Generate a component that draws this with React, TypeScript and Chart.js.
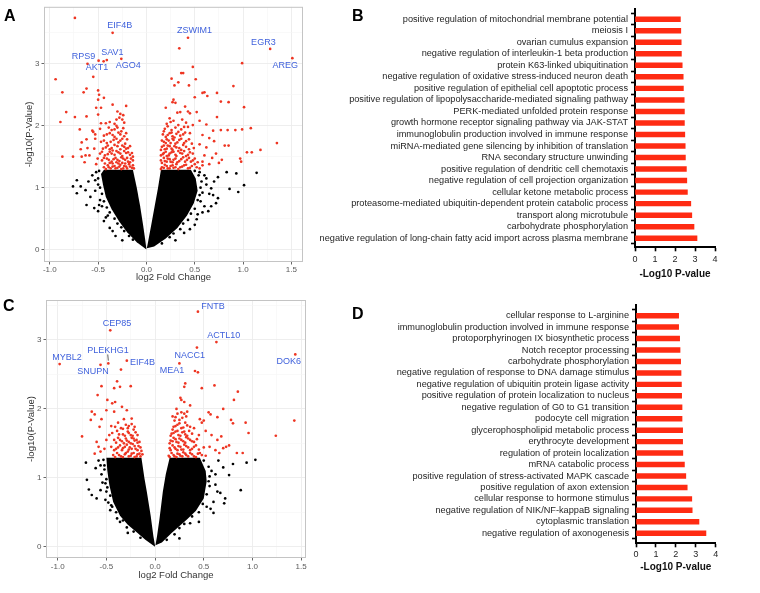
import React, { useEffect, useRef } from 'react';
import { Chart, registerables } from 'chart.js';

Chart.register(...registerables);

const FONT = "'Liberation Sans', Arial, Helvetica, sans-serif";
Chart.defaults.font.family = FONT;

type Pt = [number, number];

// ---------------- Panel A (volcano) ----------------
// outlines of the dense, fully black (non-significant) clouds: left and right lobes
const CORE_A_LEFT: Pt[] = [[0,0],[-0.10,0.12],[-0.20,0.28],[-0.28,0.45],[-0.36,0.65],[-0.42,0.85],[-0.45,1.05],[-0.47,1.22],[-0.44,1.29],[-0.14,1.29],[-0.10,1.0],[-0.065,0.7],[-0.035,0.4],[-0.012,0.15],[-0.002,0.03]];
const CORE_A_RIGHT: Pt[] = [[0.004,0.02],[0.02,0.15],[0.05,0.4],[0.085,0.7],[0.12,1.0],[0.15,1.29],[0.46,1.29],[0.51,1.15],[0.53,0.95],[0.49,0.75],[0.42,0.55],[0.32,0.35],[0.20,0.18],[0.08,0.05]];

const BLACK_A: Pt[] = [[-0.72,1.12],[-0.76,1.02],[-0.68,1.02],[-0.72,0.91],[-0.63,0.96],[-0.62,0.72],[-0.54,0.67],[-0.50,0.62],[-0.44,0.46],[-0.38,0.35],[-0.35,0.30],[-0.60,1.10],[-0.56,1.20],[-0.52,1.25],[-0.58,0.85],[-0.53,0.95],[-0.50,1.05],[-0.48,0.80],[-0.46,0.70],[-0.40,0.55],[-0.32,0.22],[-0.25,0.15],
[-0.49,1.27],[-0.50,1.15],[-0.48,1.00],[-0.46,0.90],[-0.44,0.78],[-0.41,0.68],[-0.38,0.60],[-0.33,0.50],[-0.30,0.42],[-0.26,0.36],[-0.23,0.30],[-0.18,0.22],[-0.14,0.16],[-0.53,1.12],[-0.49,0.72],[-0.42,0.52],
[0.83,1.25],[0.93,1.23],[1.14,1.24],[1.01,1.04],[0.86,0.98],[0.95,0.93],[0.74,1.17],[0.70,1.10],[0.67,0.99],[0.69,0.88],[0.74,0.83],[0.72,0.75],[0.67,0.70],[0.64,0.62],[0.53,0.57],[0.52,0.49],[0.45,0.33],[0.39,0.27],[0.60,1.20],[0.62,1.05],[0.58,0.92],[0.56,0.78],[0.60,0.70],[0.55,1.25],[0.50,0.40],[0.30,0.15],
[0.50,1.27],[0.54,1.20],[0.57,1.10],[0.56,1.00],[0.55,0.88],[0.53,0.80],[0.50,0.66],[0.46,0.58],[0.43,0.48],[0.38,0.42],[0.35,0.33],[0.28,0.26],[0.24,0.20],[0.16,0.10],[0.62,1.15],[0.65,0.90],[0.58,0.60]];

const RED_A: Pt[] = [[-0.74,3.74],[-0.35,3.50],[-0.495,3.05],[-0.443,3.04],[-0.41,3.06],[-0.61,3.0],[-0.26,3.08],[-0.55,2.79],[-0.94,2.75],[-0.87,2.54],[-0.65,2.54],[-0.62,2.60],[-0.50,2.57],[-0.49,2.50],[-0.50,2.42],[-0.44,2.45],[-0.35,2.34],[-0.21,2.32],[-0.52,2.29],[-0.47,2.29],[-0.83,2.22],[-0.30,2.23],[-0.27,2.19],[-0.24,2.17],[-0.28,2.13],[-0.31,2.10],[-0.25,2.10],[-0.23,2.05],[-0.74,2.14],[-0.62,2.15],[-0.50,2.18],[-0.89,2.06],[-0.47,2.04],[-0.42,2.04],[-0.38,2.06],[-0.33,2.03],[-0.31,2.00],
[-0.87,1.50],[-0.76,1.50],[-0.68,1.62],[-0.63,1.52],[-0.64,1.41],[-0.67,1.73],[-0.69,1.94],[-0.56,1.92],[-0.53,1.86],[-0.62,1.78],[-0.61,1.64],[-0.59,1.52],[-0.67,1.50],[-0.55,1.90],[-0.53,1.79],[-0.54,1.63],[-0.505,1.47],[-0.52,1.38],
[-0.44,1.33],[-0.40,1.36],[-0.37,1.31],[-0.33,1.35],[-0.30,1.32],[-0.27,1.37],[-0.24,1.31],[-0.21,1.34],[-0.18,1.38],[-0.15,1.32],[-0.14,1.36],[-0.35,1.39],[-0.25,1.40],
[-0.46,1.44],[-0.41,1.47],[-0.36,1.42],[-0.32,1.48],[-0.28,1.43],[-0.26,1.49],[-0.22,1.45],[-0.19,1.42],[-0.16,1.47],[-0.31,1.41],
[-0.48,1.55],[-0.43,1.52],[-0.38,1.58],[-0.33,1.53],[-0.29,1.57],[-0.25,1.51],[-0.21,1.56],[-0.17,1.53],[-0.35,1.60],
[-0.45,1.63],[-0.40,1.68],[-0.36,1.64],[-0.30,1.67],[-0.27,1.62],[-0.23,1.66],[-0.19,1.64],
[-0.47,1.74],[-0.41,1.72],[-0.34,1.77],[-0.29,1.73],[-0.25,1.79],[-0.22,1.71],
[-0.44,1.84],[-0.38,1.88],[-0.33,1.82],[-0.27,1.86],[-0.23,1.83],
[-0.48,1.95],[-0.36,1.93],[-0.30,1.97],[-0.26,1.91],
[-0.42,1.30],[-0.39,1.33],[-0.35,1.34],[-0.32,1.31],[-0.28,1.34],[-0.26,1.30],[-0.23,1.35],[-0.20,1.31],[-0.17,1.34],[-0.13,1.31],[-0.43,1.39],[-0.38,1.40],[-0.29,1.39],[-0.22,1.39],[-0.17,1.41],[-0.14,1.44],
[-0.44,1.48],[-0.39,1.45],[-0.34,1.46],[-0.30,1.45],[-0.24,1.47],[-0.20,1.48],[-0.14,1.50],[-0.46,1.58],[-0.40,1.54],[-0.36,1.55],[-0.31,1.59],[-0.27,1.55],[-0.23,1.59],[-0.19,1.57],[-0.15,1.56],
[-0.42,1.65],[-0.38,1.62],[-0.33,1.69],[-0.25,1.68],[-0.21,1.63],[-0.17,1.67],[-0.44,1.76],[-0.37,1.74],[-0.31,1.79],[-0.27,1.76],[-0.20,1.78],[-0.41,1.86],[-0.35,1.85],[-0.29,1.89],[-0.21,1.88],[-0.39,1.97],[-0.33,1.94],[-0.24,1.96],
[0.43,3.42],[0.34,3.25],[1.28,3.24],[1.51,3.09],[0.99,3.01],[0.48,2.95],[0.36,2.85],[0.38,2.85],[0.26,2.76],[0.51,2.75],[0.33,2.70],[0.29,2.65],[0.44,2.65],[0.90,2.64],[0.73,2.53],[0.58,2.53],[0.60,2.54],[0.63,2.48],[0.50,2.46],[0.28,2.42],[0.27,2.38],[0.30,2.37],[0.77,2.39],[0.85,2.38],[0.20,2.29],[1.01,2.30],[0.40,2.31],[0.32,2.21],[0.35,2.22],[0.43,2.23],[0.45,2.20],[0.52,2.22],[0.73,2.14],[0.77,1.93],[0.84,1.93],[0.92,1.93],[0.99,1.94],[1.08,1.96],[0.69,1.92],[1.35,1.72],[1.18,1.61],[1.09,1.57],[1.04,1.57],[0.85,1.68],[0.81,1.68],[0.97,1.47],[0.98,1.42],
[0.24,2.12],[0.28,2.08],[0.37,2.10],[0.41,2.05],[0.55,2.08],[0.62,2.02],[0.58,1.85],[0.65,1.80],[0.70,1.75],[0.62,1.65],[0.55,1.70],[0.72,1.55],[0.68,1.48],[0.75,1.40],[0.78,1.45],[0.65,1.38],[0.60,1.52],[0.58,1.42],
[0.16,1.33],[0.19,1.37],[0.22,1.31],[0.25,1.35],[0.28,1.32],[0.31,1.38],[0.35,1.33],[0.39,1.36],[0.43,1.31],[0.47,1.35],[0.52,1.33],
[0.15,1.44],[0.18,1.48],[0.21,1.42],[0.24,1.46],[0.27,1.41],[0.30,1.47],[0.34,1.43],[0.38,1.49],[0.42,1.45],[0.46,1.42],[0.50,1.47],
[0.17,1.54],[0.20,1.58],[0.23,1.52],[0.26,1.57],[0.30,1.53],[0.33,1.59],[0.37,1.55],[0.41,1.51],[0.45,1.57],
[0.16,1.66],[0.19,1.62],[0.22,1.68],[0.26,1.63],[0.29,1.67],[0.34,1.64],[0.38,1.69],[0.44,1.62],
[0.18,1.74],[0.21,1.78],[0.25,1.72],[0.28,1.77],[0.32,1.73],[0.36,1.79],[0.41,1.75],[0.47,1.71],
[0.17,1.86],[0.20,1.82],[0.24,1.88],[0.27,1.83],[0.31,1.87],[0.35,1.84],[0.40,1.89],
[0.19,1.95],[0.22,1.99],[0.26,1.93],[0.30,1.97],[0.36,1.94],[0.43,1.98],
[0.15,1.30],[0.18,1.32],[0.21,1.35],[0.24,1.31],[0.27,1.36],[0.30,1.33],[0.33,1.30],[0.37,1.34],[0.41,1.37],[0.45,1.32],[0.50,1.38],[0.55,1.31],[0.58,1.36],
[0.16,1.40],[0.19,1.43],[0.22,1.47],[0.25,1.42],[0.28,1.45],[0.32,1.41],[0.36,1.46],[0.40,1.42],[0.44,1.48],[0.48,1.44],[0.53,1.41],
[0.15,1.52],[0.18,1.56],[0.21,1.51],[0.24,1.55],[0.28,1.58],[0.31,1.51],[0.35,1.56],[0.39,1.59],[0.43,1.53],[0.48,1.55],
[0.15,1.61],[0.18,1.68],[0.21,1.63],[0.24,1.67],[0.27,1.61],[0.31,1.65],[0.36,1.61],[0.41,1.66],[0.49,1.64],
[0.16,1.76],[0.20,1.72],[0.23,1.76],[0.27,1.79],[0.30,1.71],[0.34,1.77],[0.39,1.72],[0.44,1.78],
[0.18,1.91],[0.22,1.85],[0.26,1.89],[0.29,1.81],[0.33,1.90],[0.38,1.86],[0.45,1.88],[0.21,2.03],[0.25,2.06],[0.33,2.01],[0.39,1.98],[0.48,2.01]];

type GeneLabel = { gene: string; lx: number; ly: number; line?: [number, number, number, number] };

const LABELS_A: GeneLabel[] = [
  { gene: 'EIF4B', lx: -0.277, ly: 3.61 },
  { gene: 'ZSWIM1', lx: 0.498, ly: 3.53 },
  { gene: 'EGR3', lx: 1.21, ly: 3.35 },
  { gene: 'RPS9', lx: -0.65, ly: 3.12 },
  { gene: 'SAV1', lx: -0.353, ly: 3.19 },
  { gene: 'AKT1', lx: -0.512, ly: 2.94 },
  { gene: 'AGO4', lx: -0.187, ly: 2.97 },
  { gene: 'AREG', lx: 1.436, ly: 2.98 },
];

// ---------------- Panel C (volcano) ----------------
const CORE_C_LEFT: Pt[] = [[0,0],[-0.1,0.1],[-0.18,0.2],[-0.28,0.32],[-0.36,0.45],[-0.43,0.65],[-0.47,0.9],[-0.49,1.1],[-0.50,1.29],[-0.14,1.29],[-0.11,1.0],[-0.085,0.8],[-0.045,0.45],[-0.017,0.15],[-0.002,0.03]];
const CORE_C_RIGHT: Pt[] = [[0.004,0.02],[0.02,0.15],[0.045,0.4],[0.08,0.8],[0.11,1.05],[0.15,1.29],[0.46,1.29],[0.52,1.1],[0.53,0.95],[0.50,0.7],[0.42,0.52],[0.33,0.40],[0.17,0.2],[0.07,0.06]];

const BLACK_C: Pt[] = [[-0.71,1.22],[-0.61,1.14],[-0.70,0.97],[-0.68,0.83],[-0.60,0.70],[-0.51,0.68],[-0.56,0.82],[-0.51,0.92],[-0.46,0.53],[-0.39,0.41],[-0.36,0.36],[-0.58,1.25],[-0.55,1.05],[-0.52,1.18],[-0.50,0.80],[-0.45,0.60],[-0.28,0.20],[-0.65,0.75],
[-0.53,1.26],[-0.52,1.12],[-0.50,0.98],[-0.49,0.86],[-0.46,0.74],[-0.44,0.58],[-0.40,0.50],[-0.33,0.38],[-0.29,0.28],[-0.22,0.22],[-0.15,0.13],[-0.56,1.18],[-0.54,0.93],[-0.48,0.64],
[0.94,1.22],[1.03,1.26],[0.88,0.82],[0.76,1.04],[0.71,0.63],[0.60,0.49],[0.67,0.78],[0.62,0.90],[0.53,0.58],[0.45,0.36],[0.36,0.34],[0.80,1.20],[0.70,1.15],[0.65,1.25],[0.58,1.10],[0.60,0.65],[0.55,0.95],[0.72,0.70],[0.25,0.12],
[0.50,1.25],[0.55,1.16],[0.56,1.02],[0.56,0.88],[0.53,0.76],[0.49,0.62],[0.45,0.50],[0.38,0.44],[0.30,0.33],[0.25,0.27],[0.20,0.18],[0.12,0.10],[0.62,1.05],[0.64,0.80],[0.57,0.55]];

const RED_C: Pt[] = [[-0.46,3.14],[-0.98,2.65],[-0.56,2.64],[-0.48,2.66],[-0.29,2.70],[-0.35,2.57],[-0.39,2.40],[-0.36,2.32],[-0.42,2.30],[-0.25,2.33],[-0.55,2.33],[-0.59,2.20],[-0.49,2.13],[-0.44,2.08],[-0.41,2.10],[-0.50,1.98],[-0.34,2.03],[-0.42,1.96],[-0.29,1.98],[-0.24,1.86],[-0.66,1.84],[-0.65,1.96],[-0.57,1.74],[-0.75,1.60],[-0.62,1.92],[-0.55,1.85],[-0.60,1.52],[-0.58,1.45],[-0.62,1.35],[-0.56,1.38],[-0.52,1.42],[-0.50,1.55],[-0.47,1.62],[-0.45,1.75],[-0.38,1.80],[-0.32,1.85],[-0.27,1.75],[-0.22,1.70],
[-0.43,1.33],[-0.39,1.36],[-0.35,1.31],[-0.31,1.34],[-0.28,1.38],[-0.25,1.32],[-0.22,1.36],[-0.19,1.31],[-0.16,1.35],[-0.14,1.39],
[-0.45,1.45],[-0.40,1.42],[-0.36,1.47],[-0.33,1.43],[-0.29,1.48],[-0.26,1.44],[-0.23,1.49],[-0.20,1.42],[-0.17,1.46],
[-0.42,1.55],[-0.38,1.58],[-0.34,1.53],[-0.30,1.57],[-0.27,1.52],[-0.24,1.58],[-0.21,1.54],[-0.18,1.51],
[-0.44,1.65],[-0.39,1.68],[-0.33,1.63],[-0.28,1.67],[-0.25,1.62],[-0.20,1.66],
[-0.41,1.74],[-0.35,1.72],[-0.30,1.77],[-0.24,1.78],
[-0.41,1.30],[-0.37,1.33],[-0.33,1.30],[-0.30,1.36],[-0.27,1.31],[-0.24,1.35],[-0.21,1.30],[-0.18,1.34],[-0.15,1.31],[-0.13,1.34],
[-0.42,1.40],[-0.38,1.44],[-0.34,1.40],[-0.31,1.45],[-0.27,1.41],[-0.24,1.42],[-0.21,1.46],[-0.18,1.40],[-0.15,1.44],
[-0.40,1.51],[-0.36,1.55],[-0.32,1.50],[-0.29,1.54],[-0.25,1.50],[-0.22,1.57],[-0.19,1.55],[-0.16,1.52],
[-0.37,1.63],[-0.31,1.61],[-0.27,1.65],[-0.23,1.61],[-0.18,1.62],[-0.33,1.71],[-0.28,1.72],[-0.21,1.74],
[0.44,3.41],[0.63,2.97],[0.43,2.89],[0.25,2.66],[1.44,2.79],[0.41,2.55],[0.44,2.53],[0.31,2.37],[0.30,2.32],[0.48,2.30],[0.61,2.34],[0.85,2.25],[0.81,2.13],[0.26,2.16],[0.27,2.13],[0.30,2.10],[0.22,2.0],[0.27,1.95],[0.30,1.93],[0.33,1.96],[0.18,1.89],[0.21,1.88],[0.46,1.85],[0.48,1.80],[0.50,1.83],[0.80,1.79],[0.78,1.84],[0.93,1.80],[0.96,1.65],[1.24,1.61],[1.43,1.83],[0.73,1.45],[0.76,1.47],[0.70,1.43],[0.84,1.36],[0.90,1.36],[0.66,1.36],[0.62,1.40],[0.56,1.45],[0.55,1.95],[0.57,1.92],[0.64,1.88],[0.70,2.00],[0.58,1.62],[0.64,1.55],[0.68,1.60],[0.52,1.68],[0.40,1.72],[0.36,2.05],
[0.14,1.32],[0.17,1.36],[0.20,1.31],[0.23,1.35],[0.26,1.32],[0.29,1.37],[0.32,1.33],[0.36,1.36],[0.40,1.31],[0.44,1.35],[0.48,1.33],
[0.15,1.43],[0.18,1.47],[0.21,1.42],[0.24,1.46],[0.27,1.41],[0.30,1.48],[0.34,1.44],[0.38,1.42],[0.42,1.47],
[0.16,1.54],[0.19,1.58],[0.22,1.52],[0.25,1.57],[0.29,1.53],[0.32,1.59],[0.36,1.55],[0.40,1.52],
[0.17,1.64],[0.21,1.67],[0.24,1.62],[0.28,1.66],[0.31,1.63],[0.35,1.68],
[0.19,1.74],[0.23,1.77],[0.27,1.72],[0.33,1.76],[0.25,1.84],
[0.15,1.30],[0.19,1.33],[0.22,1.30],[0.25,1.34],[0.28,1.31],[0.31,1.35],[0.34,1.31],[0.38,1.34],[0.42,1.30],[0.46,1.36],[0.52,1.32],
[0.16,1.40],[0.20,1.44],[0.23,1.40],[0.26,1.45],[0.29,1.41],[0.32,1.46],[0.36,1.40],[0.40,1.45],[0.45,1.41],[0.50,1.44],
[0.15,1.50],[0.18,1.53],[0.21,1.56],[0.24,1.51],[0.27,1.55],[0.31,1.51],[0.34,1.57],[0.38,1.53],[0.43,1.56],
[0.16,1.61],[0.19,1.65],[0.23,1.68],[0.26,1.61],[0.30,1.67],[0.33,1.61],[0.38,1.64],[0.45,1.62],
[0.18,1.70],[0.21,1.75],[0.25,1.79],[0.29,1.73],[0.31,1.80],[0.36,1.74],[0.20,1.83],[0.28,1.87],[0.23,1.93],[0.32,1.89]];

const LABELS_C: GeneLabel[] = [
  { gene: 'FNTB', lx: 0.596, ly: 3.49 },
  { gene: 'CEP85', lx: -0.39, ly: 3.24 },
  { gene: 'ACTL10', lx: 0.705, ly: 3.07 },
  { gene: 'NACC1', lx: 0.356, ly: 2.78 },
  { gene: 'PLEKHG1', lx: -0.483, ly: 2.84, line: [-0.486, 2.79, -0.48, 2.70] },
  { gene: 'MYBL2', lx: -0.904, ly: 2.74 },
  { gene: 'EIF4B', lx: -0.13, ly: 2.67 },
  { gene: 'DOK6', lx: 1.373, ly: 2.69 },
  { gene: 'SNUPN', lx: -0.637, ly: 2.54 },
  { gene: 'MEA1', lx: 0.175, ly: 2.55 },
];

const VOLCANO_X_TICKS = [-1, -0.75, -0.5, -0.25, 0, 0.25, 0.5, 0.75, 1, 1.25, 1.5];
const VOLCANO_Y_TICKS = [0, 0.5, 1, 1.5, 2, 2.5, 3, 3.5];

// ---------------- Panel B (GO bars) ----------------
const TERMS_B = [
  'positive regulation of mitochondrial membrane potential',
  'meiosis I',
  'ovarian cumulus expansion',
  'negative regulation of interleukin-1 beta production',
  'protein K63-linked ubiquitination',
  'negative regulation of oxidative stress-induced neuron death',
  'positive regulation of epithelial cell apoptotic process',
  'positive regulation of lipopolysaccharide-mediated signaling pathway',
  'PERK-mediated unfolded protein response',
  'growth hormone receptor signaling pathway via JAK-STAT',
  'immunoglobulin production involved in immune response',
  'miRNA-mediated gene silencing by inhibition of translation',
  'RNA secondary structure unwinding',
  'positive regulation of dendritic cell chemotaxis',
  'negative regulation of cell projection organization',
  'cellular ketone metabolic process',
  'proteasome-mediated ubiquitin-dependent protein catabolic process',
  'transport along microtubule',
  'carbohydrate phosphorylation',
  'negative regulation of long-chain fatty acid import across plasma membrane',
];
const VALUES_B = [2.27, 2.29, 2.31, 2.32, 2.36, 2.41, 2.42, 2.46, 2.47, 2.47, 2.49, 2.51, 2.52, 2.57, 2.59, 2.62, 2.79, 2.84, 2.95, 3.10];

// ---------------- Panel D (GO bars) ----------------
const TERMS_D = [
  'cellular response to L-arginine',
  'immunoglobulin production involved in immune response',
  'protoporphyrinogen IX biosynthetic process',
  'Notch receptor processing',
  'carbohydrate phosphorylation',
  'negative regulation of response to DNA damage stimulus',
  'negative regulation of ubiquitin protein ligase activity',
  'positive regulation of protein localization to nucleus',
  'negative regulation of G0 to G1 transition',
  'podocyte cell migration',
  'glycerophospholipid metabolic process',
  'erythrocyte development',
  'regulation of protein localization',
  'mRNA catabolic process',
  'positive regulation of stress-activated MAPK cascade',
  'positive regulation of axon extension',
  'cellular response to hormone stimulus',
  'negative regulation of NIK/NF-kappaB signaling',
  'cytoplasmic translation',
  'negative regulation of axonogenesis',
];
const VALUES_D = [2.14, 2.14, 2.19, 2.21, 2.24, 2.26, 2.28, 2.29, 2.31, 2.31, 2.34, 2.34, 2.35, 2.43, 2.50, 2.57, 2.80, 2.82, 3.16, 3.51];

const BAR_X_TICKS = [0, 1, 2, 3, 4];

// ---------------- helpers ----------------
const toXY = (p: Pt) => ({ x: p[0], y: p[1] });
const isMult = (v: number, step: number) => Math.abs(v / step - Math.round(v / step)) < 1e-6;

const borderPlugin = {
  id: 'panelBorder',
  afterDraw(chart: any) {
    const { ctx, chartArea: a } = chart;
    ctx.save();
    ctx.strokeStyle = '#c4c4c4';
    ctx.lineWidth = 1;
    ctx.strokeRect(a.left + 0.5, a.top + 0.5, a.right - a.left - 1, a.bottom - a.top - 1);
    ctx.restore();
  },
};

// fills the dense point-cloud outlines, placed with the chart's own scales
function makeCorePlugin(lobes: Pt[][]) {
  return {
    id: 'denseCore',
    beforeDatasetsDraw(chart: any) {
      const { ctx, scales, chartArea: a } = chart;
      const xs = scales.x, ys = scales.y;
      ctx.save();
      ctx.beginPath();
      ctx.rect(a.left, a.top, a.right - a.left, a.bottom - a.top);
      ctx.clip();
      ctx.fillStyle = '#000';
      for (const lobe of lobes) {
        ctx.beginPath();
        lobe.forEach((p, i) => {
          const px = xs.getPixelForValue(p[0]);
          const py = ys.getPixelForValue(p[1]);
          if (i === 0) ctx.moveTo(px, py); else ctx.lineTo(px, py);
        });
        ctx.closePath();
        ctx.fill();
      }
      ctx.restore();
    },
  };
}

function makeGeneLabelPlugin(items: GeneLabel[]) {
  return {
    id: 'geneLabels',
    afterDatasetsDraw(chart: any) {
      const { ctx, scales } = chart;
      const xs = scales.x, ys = scales.y;
      ctx.save();
      ctx.font = `9px ${FONT}`;
      ctx.fillStyle = '#4062dc';
      ctx.textAlign = 'center';
      ctx.textBaseline = 'middle';
      for (const it of items) {
        ctx.fillText(it.gene, xs.getPixelForValue(it.lx), ys.getPixelForValue(it.ly));
        if (it.line) {
          ctx.strokeStyle = '#333';
          ctx.lineWidth = 0.8;
          ctx.beginPath();
          ctx.moveTo(xs.getPixelForValue(it.line[0]), ys.getPixelForValue(it.line[1]));
          ctx.lineTo(xs.getPixelForValue(it.line[2]), ys.getPixelForValue(it.line[3]));
          ctx.stroke();
        }
      }
      ctx.restore();
    },
  };
}

type VolcanoSpec = {
  left: number; top: number; width: number; height: number;
  core: Pt[][]; black: Pt[]; red: Pt[]; labels: GeneLabel[];
  xMin: number; xMax: number; yMin: number; yMax: number;
  pad: { left: number; right: number; top: number; bottom: number };
  yAxisW: number; xAxisH: number; yTitlePad: number; xTitlePad: number; xTickPad: number;
};

function Volcano({ s }: { s: VolcanoSpec }) {
  const ref = useRef<HTMLCanvasElement>(null);
  useEffect(() => {
    if (!ref.current) return;
    const majorX = (v: number) => isMult(v, 0.5);
    const majorY = (v: number) => isMult(v, 1);
    const chart = new Chart(ref.current, {
      type: 'scatter',
      data: {
        datasets: [
          { data: s.black.map(toXY), backgroundColor: '#000', pointRadius: 1.35, pointBorderWidth: 0, order: 2 },
          { data: s.red.map(toXY), backgroundColor: '#ee3522', pointRadius: 1.35, pointBorderWidth: 0, order: 1 },
        ],
      },
      options: {
        responsive: false,
        animation: false,
        events: [],
        layout: { padding: s.pad },
        plugins: { legend: { display: false }, tooltip: { enabled: false } },
        scales: {
          x: {
            type: 'linear', min: s.xMin, max: s.xMax,
            afterBuildTicks: (ax: any) => { ax.ticks = VOLCANO_X_TICKS.map((v) => ({ value: v })); },
            afterFit: (ax: any) => { ax.height = s.xAxisH; },
            ticks: { autoSkip: false, maxRotation: 0, padding: s.xTickPad, color: '#5a5a5a', font: { size: 8 }, callback: (v: any) => (majorX(Number(v)) ? Number(v).toFixed(1) : '') },
            grid: {
              color: (c: any) => (majorX(c.tick.value) ? '#ececec' : '#f5f5f5'),
              lineWidth: (c: any) => (majorX(c.tick.value) ? 0.9 : 0.6),
              tickLength: 2.5,
              tickColor: (c: any) => (majorX(c.tick.value) ? '#555' : 'rgba(0,0,0,0)'),
            },
            border: { display: false },
            title: { display: true, text: 'log2 Fold Change', color: '#333', font: { size: 9.5 }, padding: { top: 0, bottom: s.xTitlePad } },
          },
          y: {
            type: 'linear', min: s.yMin, max: s.yMax,
            afterBuildTicks: (ax: any) => { ax.ticks = VOLCANO_Y_TICKS.map((v) => ({ value: v })); },
            afterFit: (ax: any) => { ax.width = s.yAxisW; },
            ticks: { autoSkip: false, padding: 2, color: '#5a5a5a', font: { size: 8 }, callback: (v: any) => (majorY(Number(v)) ? String(Number(v)) : '') },
            grid: {
              color: (c: any) => (majorY(c.tick.value) ? '#ececec' : '#f5f5f5'),
              lineWidth: (c: any) => (majorY(c.tick.value) ? 0.9 : 0.6),
              tickLength: 2.5,
              tickColor: (c: any) => (majorY(c.tick.value) ? '#555' : 'rgba(0,0,0,0)'),
            },
            border: { display: false },
            title: { display: true, text: '-log10(P-Value)', color: '#333', font: { size: 9.5 }, padding: { top: s.yTitlePad, bottom: 0 } },
          },
        },
      } as any,
      plugins: [makeCorePlugin(s.core), borderPlugin, makeGeneLabelPlugin(s.labels)],
    });
    return () => chart.destroy();
  }, [s]);
  return (
    <div style={{ position: 'absolute', left: s.left, top: s.top, width: s.width, height: s.height }}>
      <canvas ref={ref} width={s.width} height={s.height} />
    </div>
  );
}

type BarSpec = {
  left: number; top: number; width: number; height: number;
  terms: string[]; values: number[];
  yMin: number; yMax: number;
  pad: { left: number; right: number; top: number; bottom: number };
  yAxisW: number; xAxisH: number; xTickPad: number; xTitlePad: number;
};

function GoBars({ s }: { s: BarSpec }) {
  const ref = useRef<HTMLCanvasElement>(null);
  useEffect(() => {
    if (!ref.current) return;
    const chart = new Chart(ref.current, {
      type: 'bar',
      data: {
        datasets: [{
          data: s.values.map((v, i) => ({ x: v, y: i })),
          backgroundColor: '#ff2b12',
          borderWidth: 0,
          barThickness: 4.8,
        }],
      },
      options: {
        indexAxis: 'y',
        responsive: false,
        animation: false,
        events: [],
        layout: { padding: s.pad },
        plugins: { legend: { display: false }, tooltip: { enabled: false } },
        scales: {
          y: {
            type: 'linear', min: s.yMin, max: s.yMax, reverse: true,
            afterBuildTicks: (ax: any) => { ax.ticks = s.terms.map((_, i) => ({ value: i })); },
            afterFit: (ax: any) => { ax.width = s.yAxisW; },
            ticks: { autoSkip: false, padding: 3, color: '#1e1e1e', font: { size: 9.2 }, callback: (v: any) => s.terms[Math.round(Number(v))] },
            grid: { drawOnChartArea: false, tickLength: 4, tickColor: '#000', tickWidth: 1.6 },
            border: { display: true, color: '#000', width: 2 },
          },
          x: {
            type: 'linear', min: 0, max: 4,
            afterBuildTicks: (ax: any) => { ax.ticks = BAR_X_TICKS.map((v) => ({ value: v })); },
            afterFit: (ax: any) => { ax.height = s.xAxisH; },
            ticks: { autoSkip: false, maxRotation: 0, padding: s.xTickPad, color: '#1e1e1e', font: { size: 9 } },
            grid: { drawOnChartArea: false, tickLength: 4, tickColor: '#000', tickWidth: 1.6 },
            border: { display: true, color: '#000', width: 2 },
            title: { display: true, text: '-Log10 P-value', color: '#111', font: { size: 10, weight: 'bold' }, padding: { top: 0, bottom: s.xTitlePad } },
          },
        },
      } as any,
    });
    return () => chart.destroy();
  }, [s]);
  return (
    <div style={{ position: 'absolute', left: s.left, top: s.top, width: s.width, height: s.height }}>
      <canvas ref={ref} width={s.width} height={s.height} />
    </div>
  );
}

const SPEC_A: VolcanoSpec = {
  left: 0, top: 0, width: 310, height: 290,
  core: [CORE_A_LEFT, CORE_A_RIGHT], black: BLACK_A, red: RED_A, labels: LABELS_A,
  xMin: -1.06, xMax: 1.62, yMin: -0.2, yMax: 3.92,
  pad: { left: 19, right: 7, top: 2, bottom: 0 },
  yAxisW: 25, xAxisH: 28, yTitlePad: 5, xTitlePad: 7, xTickPad: 0,
};

const SPEC_C: VolcanoSpec = {
  left: 0, top: 290, width: 310, height: 303,
  core: [CORE_C_LEFT, CORE_C_RIGHT], black: BLACK_C, red: RED_C, labels: LABELS_C,
  xMin: -1.12, xMax: 1.55, yMin: -0.164, yMax: 3.58,
  pad: { left: 19, right: 4, top: 10, bottom: 0 },
  yAxisW: 27, xAxisH: 35, yTitlePad: 7, xTitlePad: 11.5, xTickPad: 1,
};

const SPEC_B: BarSpec = {
  left: 310, top: 0, width: 450, height: 290,
  terms: TERMS_B, values: VALUES_B, yMin: -0.41, yMax: 19.27,
  pad: { left: 0, right: 45, top: 7, bottom: 0 },
  yAxisW: 325, xAxisH: 42.7, xTickPad: 3.3, xTitlePad: 10,
};

const SPEC_D: BarSpec = {
  left: 310, top: 290, width: 450, height: 303,
  terms: TERMS_D, values: VALUES_D, yMin: -0.41, yMax: 19.36,
  pad: { left: 0, right: 44.3, top: 15, bottom: 0 },
  yAxisW: 326, xAxisH: 49.7, xTickPad: 2.3, xTitlePad: 19.7,
};

const letterStyle = (left: number, top: number): React.CSSProperties => ({
  position: 'absolute', left, top, fontFamily: FONT, fontWeight: 'bold', fontSize: 16, lineHeight: '16px', color: '#000',
});

export default function App() {
  return (
    <div style={{ position: 'absolute', left: 0, top: 0, width: 760, height: 593, background: '#fff', overflow: 'hidden' }}>
      <Volcano s={SPEC_A} />
      <GoBars s={SPEC_B} />
      <Volcano s={SPEC_C} />
      <GoBars s={SPEC_D} />
      <div style={letterStyle(4, 8)}>A</div>
      <div style={letterStyle(352, 8)}>B</div>
      <div style={letterStyle(3, 298)}>C</div>
      <div style={letterStyle(352, 306)}>D</div>
    </div>
  );
}
